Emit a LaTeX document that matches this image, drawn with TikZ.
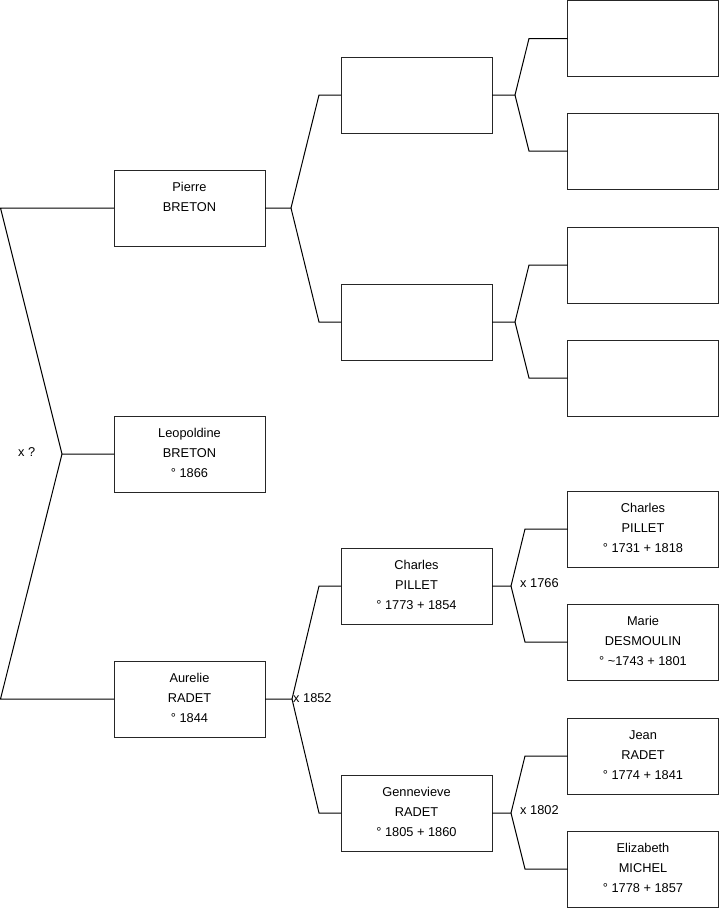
\documentclass[tikz,border=0pt]{standalone}
\usepackage{fontspec}
\setmainfont{Liberation Sans}
\begin{document}
\begin{tikzpicture}[x=1pt,y=-1pt,
  box/.style={draw=black!85,line width=1pt,minimum width=151pt,minimum height=76pt,inner sep=0pt,outer sep=0pt},
  txt/.style={anchor=north,align=center,font=\fontsize{12.8}{20}\selectfont,inner sep=0pt},
  link/.style={draw=black,line width=1pt},
  lbl/.style={font=\fontsize{12.8}{15}\selectfont,inner sep=0pt}]
\useasboundingbox (0,0) rectangle (719,908);
% level 1
\node[box] (p)  at (189.5,208) {};
\node[box] (l)  at (189.5,454) {};
\node[box] (a)  at (189.5,699) {};
% level 2
\node[box] (pf) at (416.5,95) {};
\node[box] (pm) at (416.5,322) {};
\node[box] (af) at (416.5,586) {};
\node[box] (am) at (416.5,813) {};
% level 3
\node[box] (pff) at (643,38.5) {};
\node[box] (pfm) at (643,151) {};
\node[box] (pmf) at (643,265) {};
\node[box] (pmm) at (643,378) {};
\node[box] (aff) at (643,529) {};
\node[box] (afm) at (643,642) {};
\node[box] (amf) at (643,756) {};
\node[box] (amm) at (643,869) {};
% texts
\node[txt] (tp) at ([yshift=-12pt]p.north) {Pierre\\BRETON};
\node[txt] (tl) at ([yshift=-12pt]l.north) {Leopoldine\\BRETON\\° 1866};
\node[txt] (ta) at ([yshift=-12pt]a.north) {Aurelie\\RADET\\° 1844};
\node[txt] (taf) at ([yshift=-12pt]af.north) {Charles\\PILLET\\° 1773 + 1854};
\node[txt] (tam) at ([yshift=-12pt]am.north) {Gennevieve\\RADET\\° 1805 + 1860};
\node[txt] (taff) at ([yshift=-12pt]aff.north) {Charles\\PILLET\\° 1731 + 1818};
\node[txt] (tafm) at ([yshift=-12pt]afm.north) {Marie\\DESMOULIN\\° \textasciitilde 1743 + 1801};
\node[txt] (tamf) at ([yshift=-12pt]amf.north) {Jean\\RADET\\° 1774 + 1841};
\node[txt] (tamm) at ([yshift=-12pt]amm.north) {Elizabeth\\MICHEL\\° 1778 + 1857};
% fork coordinates
\coordinate (v0) at (62,454);
\coordinate (v0a) at (0.5,208);
\coordinate (v0b) at (0.5,699);
\coordinate (v1) at (291,208);
\coordinate (v1a) at (319,95);
\coordinate (v1b) at (319,322);
\coordinate (v2) at (292,699);
\coordinate (v2a) at (319,586);
\coordinate (v2b) at (319,813);
\coordinate (v3) at (515,95);
\coordinate (v3a) at (529,38.5);
\coordinate (v3b) at (529,151);
\coordinate (v4) at (515,322);
\coordinate (v4a) at (529,265);
\coordinate (v4b) at (529,378);
\coordinate (v5) at (511,586);
\coordinate (v5a) at (525,529);
\coordinate (v5b) at (525,642);
\coordinate (v6) at (511,813);
\coordinate (v6a) at (525,756);
\coordinate (v6b) at (525,869);
% connectors
\draw[link] (l.west) -- (v0) -- (v0a) -- (p.west);
\draw[link] (v0) -- (v0b) -- (a.west);
\draw[link] (p.east) -- (v1) -- (v1a) -- (pf.west);
\draw[link] (v1) -- (v1b) -- (pm.west);
\draw[link] (a.east) -- (v2) -- (v2a) -- (af.west);
\draw[link] (v2) -- (v2b) -- (am.west);
\draw[link] (pf.east) -- (v3) -- (v3a) -- (pff.west);
\draw[link] (v3) -- (v3b) -- (pfm.west);
\draw[link] (pm.east) -- (v4) -- (v4a) -- (pmf.west);
\draw[link] (v4) -- (v4b) -- (pmm.west);
\draw[link] (af.east) -- (v5) -- (v5a) -- (aff.west);
\draw[link] (v5) -- (v5b) -- (afm.west);
\draw[link] (am.east) -- (v6) -- (v6a) -- (amf.west);
\draw[link] (v6) -- (v6b) -- (amm.west);
% marriage labels
\node[lbl,anchor=west] (m0) at (18,452) {x ?};
\node[lbl,anchor=west] (m1) at (293,698) {x 1852};
\node[lbl,anchor=west] (m2) at (520,583) {x 1766};
\node[lbl,anchor=west] (m3) at (520,810) {x 1802};
\end{tikzpicture}
\end{document}
